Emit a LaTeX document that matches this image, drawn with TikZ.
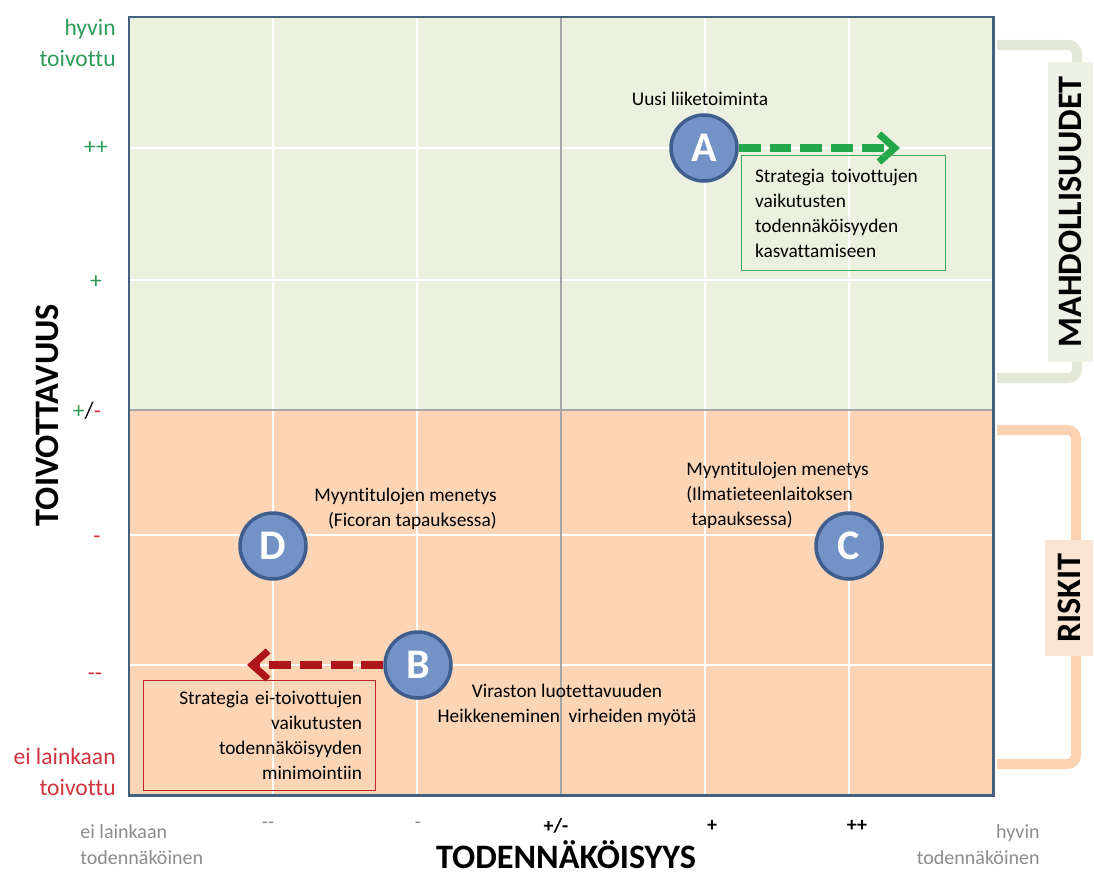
\documentclass[tikz,border=0pt]{standalone}
\usepackage{fontspec}
\setmainfont{Carlito}[Ligatures=NoCommon]
\usetikzlibrary{arrows.meta}

\definecolor{upfill}{HTML}{EBF1DE}
\definecolor{lowfill}{HTML}{FBD5B5}
\definecolor{framecol}{HTML}{44607F}
\definecolor{midcol}{HTML}{A6A6A6}
\definecolor{markfill}{HTML}{7393C6}
\definecolor{markrim}{HTML}{3F5E8E}
\definecolor{goodarrow}{HTML}{22A84A}
\definecolor{goodbox}{HTML}{3DAA5C}
\definecolor{badarrow}{HTML}{B0151B}
\definecolor{badbox}{HTML}{B8262B}
\definecolor{goodtext}{HTML}{2E9C5A}
\definecolor{badtext}{HTML}{D0343F}
\definecolor{axisgray}{HTML}{8C8C8C}
\definecolor{okline}{HTML}{E3E8D8}
\definecolor{okfill}{HTML}{EEF1E5}
\definecolor{riskline}{HTML}{F9D3B4}
\definecolor{riskfill}{HTML}{FCE4D3}

\begin{document}
\begin{tikzpicture}[x=0.02cm,y=-0.02cm,
  body/.style={font=\fontsize{11}{14.2}\selectfont, inner sep=0pt},
  sidelab/.style={font=\fontsize{13.4}{17.6}\selectfont, inner sep=0pt},
  botlab/.style={font=\fontsize{11.4}{14.7}\selectfont, inner sep=0pt, text=axisgray},
  bigtitle/.style={font=\fontsize{19.5}{22}\selectfont\bfseries, inner sep=0pt},
  gridline/.style={white, line width=0.6pt},
  midline/.style={midcol, line width=1.4pt},
  frame/.style={framecol, line width=1.7pt},
  marker/.style={circle, fill=markfill, draw=markrim, line width=2pt,
    minimum size=1.32cm, inner sep=0pt, text=white,
    font=\fontsize{24}{24}\selectfont\bfseries},
  goodpath/.style={goodarrow, line width=4pt, dash pattern=on 12.5pt off 5pt,
    -{Straight Barb[length=9pt,width=16pt]}},
  badpath/.style={badarrow, line width=4pt, dash pattern=on 12.5pt off 5pt,
    -{Straight Barb[length=9pt,width=16pt]}},
  strategybox/.style={body, line width=0.7pt, inner xsep=0.27cm},
  bracketline/.style={line width=5.7pt, rounded corners=5pt},
  bracketlab/.style={bigtitle, rotate=90, inner sep=0pt}
]
\useasboundingbox (0,0) rectangle (1094,875);
\fill[white] (0,0) rectangle (1094,875);

% quadrant backgrounds
\fill[upfill] (129,17) rectangle (993,410);
\fill[lowfill] (129,410) rectangle (993,795);

% light grid
\foreach \x in {273,417,705,849} \draw[gridline] (\x,17) -- (\x,795);
\foreach \y in {148,280,535,665} \draw[gridline] (129,\y) -- (993,\y);

% centre cross and frame
\draw[midline] (561,17) -- (561,795);
\draw[midline] (129,410) -- (993,410);
\draw[frame] (129,17) rectangle (993,795);

% side brackets
\draw[bracketline, okline] (997,45) -- (1077,45) -- (1077,378) -- (997,378);
\node[bracketlab, fill=okfill, minimum width=6cm, minimum height=0.9cm] (okl) at (1070,212) {MAHDOLLISUUDET};
\draw[bracketline, riskline] (997,430) -- (1076,430) -- (1076,764) -- (997,764);
\node[bracketlab, fill=riskfill, minimum width=2.34cm, minimum height=0.96cm] (riskl) at (1069,598) {RISKIT};

% vertical axis
\node[bigtitle, rotate=90] (ytitle) at (47,415) {TOIVOTTAVUUS};
\node[sidelab, text=goodtext, align=right, anchor=east] (ytop) at (116,43) {hyvin\\toivottu};
\node[sidelab, text=goodtext] (ypp) at (96,148) {++};
\node[sidelab, text=goodtext] (yp) at (96,282) {+};
\node[sidelab] (yz) at (87,411) {\textcolor{goodtext}{+}/\textcolor{badtext}{-}};
\node[sidelab, text=badtext] (ym) at (97,540) {-};
\node[sidelab, text=badtext] (ymm) at (95,677) {-{}-};
\node[sidelab, text=badtext, align=right, anchor=east] (ybot) at (116,772) {ei lainkaan\\toivottu};

% horizontal axis
\node[botlab, align=left, anchor=west] (xleft) at (80,845) {ei lainkaan\\todennäköinen};
\node[botlab] (xmm) at (268,825) {-{}-};
\node[botlab] (xm) at (418,825) {-};
\node[body, font=\fontsize{11.4}{14}\selectfont\bfseries] (xz) at (556,826) {+/-};
\node[body, font=\fontsize{11.4}{14}\selectfont\bfseries] (xp) at (712,826) {+};
\node[body, font=\fontsize{11.4}{14}\selectfont\bfseries] (xpp) at (857,826) {++};
\node[botlab, align=right, anchor=east] (xright) at (1040,845) {hyvin\\todennäköinen};
\node[bigtitle] (xtitle) at (566,855) {TODENNÄKÖISYYS};

% items
\node[marker] (A) at (704,148) {A};
\node[marker] (B) at (418,665) {B};
\node[marker] (C) at (849,546) {C};
\node[marker] (D) at (273,546) {D};

\node[body] (Alab) at (700,99) {Uusi liiketoiminta};
\node[body, align=center] (Blab) at (567,705) {Viraston luotettavuuden\\Heikkeneminen~ virheiden myötä};
\node[body, align=left, anchor=west] (Clab) at (686,495) {Myyntitulojen menetys\\(Ilmatieteenlaitoksen\\\hspace{3pt}tapauksessa)};
\node[body, align=right, anchor=east] (Dlab) at (497,509) {Myyntitulojen menetys\\(Ficoran tapauksessa)};

% strategies
\coordinate (Aend) at (900,148);
\draw[goodpath] (A.east) -- (Aend);
\node[strategybox, draw=goodbox, anchor=north west, minimum width=4.08cm, minimum height=2.3cm,
  text width=3.54cm, align=left] (Abox) at (741,155)
  {Strategia toivottujen\\vaikutusten\\todennäköisyyden\\kasvattamiseen};

\coordinate (Bend) at (247,665);
\draw[badpath] (B.west) -- (Bend);
\node[strategybox, draw=badbox, anchor=north west, minimum width=4.64cm, minimum height=2.2cm,
  text width=4.1cm, align=right] (Bbox) at (143,680)
  {Strategia ei-toivottujen\\vaikutusten\\todennäköisyyden\\minimointiin};
\end{tikzpicture}
\end{document}
